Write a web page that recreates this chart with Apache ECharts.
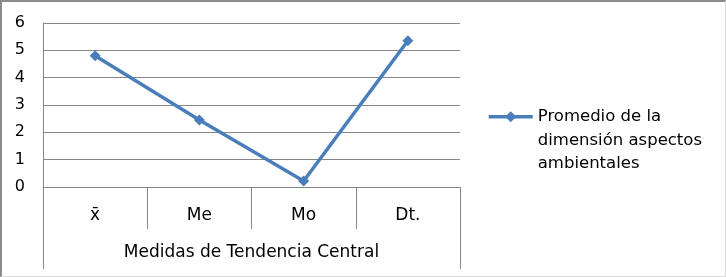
<!DOCTYPE html>
<html>
<head>
<meta charset="utf-8">
<script src="https://cdn.jsdelivr.net/npm/echarts@6/dist/echarts.min.js"></script>
<style>
html,body{margin:0;padding:0;background:#fff;}
#c{width:726px;height:277px;box-sizing:border-box;border-left:2px solid #8c8c8c;border-top:2px solid #8c8c8c;border-right:1px solid #d9d9d9;border-bottom:1px solid #d9d9d9;}
</style>
</head>
<body>
<div id="c"></div>
<script>
var categories = ['x\u0304', 'Me', 'Mo', 'Dt.'];
var groupLabel = ['Medidas de Tendencia Central'];
var seriesName = 'Promedio de la dimensión aspectos ambientales';
var values = [4.8, 2.45, 0.22, 5.35];

var chart = echarts.init(document.getElementById('c'), null, {renderer: 'canvas'});
var font = 'DejaVu Sans';
chart.setOption({
  animation: false,
  textStyle: {fontFamily: font},
  grid: {left: 41, top: 21, right: 265, bottom: 89, containLabel: false},
  legend: {
    left: 485, top: 56, padding: 0,
    itemWidth: 44, itemHeight: 14,
    itemGap: 0,
    formatter: function () { return '\n\nPromedio de la\ndimensión aspectos\nambientales'; },
    textStyle: {fontFamily: font, fontSize: 16.5, color: '#000', lineHeight: 23.5},
    lineStyle: {width: 3.5, color: '#4A7EBB'},
    data: [{name: seriesName}]
  },
  xAxis: [{
    type: 'category', data: categories, position: 'bottom',
    axisLine: {show: true, lineStyle: {color: '#868686', width: 1}},
    axisTick: {show: true, length: 42, lineStyle: {color: '#868686'}},
    axisLabel: {margin: 20, fontSize: 17, color: '#000', fontFamily: font}
  }, {
    type: 'category', data: groupLabel, position: 'bottom',
    axisLine: {show: false},
    axisTick: {show: true, length: 82, lineStyle: {color: '#868686'}},
    axisLabel: {margin: 57, fontSize: 17, color: '#000', fontFamily: font}
  }],
  yAxis: {
    type: 'value', min: 0, max: 6, interval: 1,
    axisLine: {show: true, onZero: false, lineStyle: {color: '#868686', width: 1}},
    axisTick: {show: false},
    splitLine: {lineStyle: {color: '#868686', width: 1}},
    axisLabel: {margin: 18, fontSize: 16, color: '#000', fontFamily: font}
  },
  series: [{
    name: seriesName, type: 'line', data: values,
    xAxisIndex: 0,
    symbol: 'diamond', symbolSize: 11,
    lineStyle: {color: '#4A7EBB', width: 3.5},
    itemStyle: {color: '#4A7EBB'}
  }]
});
</script>
</body>
</html>
